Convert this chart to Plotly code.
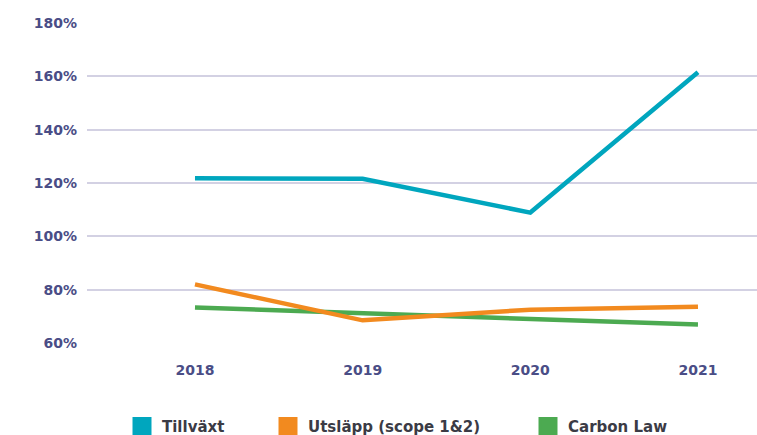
import plotly.graph_objects as go

years = [2018, 2019, 2020, 2021]
tillvaxt = [121.8, 121.6, 108.9, 161.5]
utslapp = [82.0, 68.5, 72.5, 73.6]
carbon_law = [73.3, 71.2, 69.1, 66.9]

series_names = ["Tillväxt", "Utsläpp (scope 1&2)", "Carbon Law"]
colors = ["#00a6be", "#f28a1f", "#4caa51"]

y_ticks = [60, 80, 100, 120, 140, 160, 180]
y_labels = [f"{v}%" for v in y_ticks]

FONT = "DejaVu Sans"
fig = go.Figure()

# lines (draw order: green, orange, cyan)
for name, vals, col in [(series_names[2], carbon_law, colors[2]),
                        (series_names[1], utslapp, colors[1]),
                        (series_names[0], tillvaxt, colors[0])]:
    fig.add_trace(go.Scatter(x=years, y=vals, mode="lines", name=name,
                             line=dict(color=col, width=4.5),
                             showlegend=False, hoverinfo="x+y"))

legend_ids = ["legend", "legend2", "legend3"]
for name, col, lid in zip(series_names, colors, legend_ids):
    fig.add_trace(go.Scatter(x=[None], y=[None], mode="markers", name=name,
                             marker=dict(symbol="square", size=16, color=col,
                                         line=dict(color=col, width=3)),
                             showlegend=True, legend=lid))

leg_common = dict(orientation="h", yanchor="middle", xanchor="left",
                  font=dict(family=FONT, size=15, color="#3b3b45", weight="bold"),
                  bgcolor="rgba(0,0,0,0)")
W = 670.0
fig.update_layout(
    width=757, height=435,
    margin=dict(l=87, r=0, t=23, b=92, autoexpand=False),
    paper_bgcolor="white", plot_bgcolor="white",
    legend=dict(x=(122 - 87) / W, y=-0.262, **leg_common),
    legend2=dict(x=(268 - 87) / W, y=-0.262, **leg_common),
    legend3=dict(x=(528 - 87) / W, y=-0.262, **leg_common),
    xaxis=dict(range=[2017.356, 2021.352], tickvals=years,
               ticktext=[str(y) for y in years], automargin=False,
               showgrid=False, zeroline=False, showline=False,
               tickfont=dict(family=FONT, size=14, color="#4a4d86", weight="bold"),
               ticklabelstandoff=17),
    yaxis=dict(range=[60, 180], tickvals=y_ticks, ticktext=y_labels,
               automargin=False,
               showgrid=True, gridcolor="#d3d1e3", gridwidth=1.5,
               zeroline=False, showline=False,
               tickfont=dict(family=FONT, size=14, color="#4a4d86", weight="bold"),
               ticklabelstandoff=9),
)

fig.write_html(
    "out.html",
    config={"displayModeBar": False},
    post_script="document.body.style.margin='0';document.body.style.overflow='hidden';",
)
